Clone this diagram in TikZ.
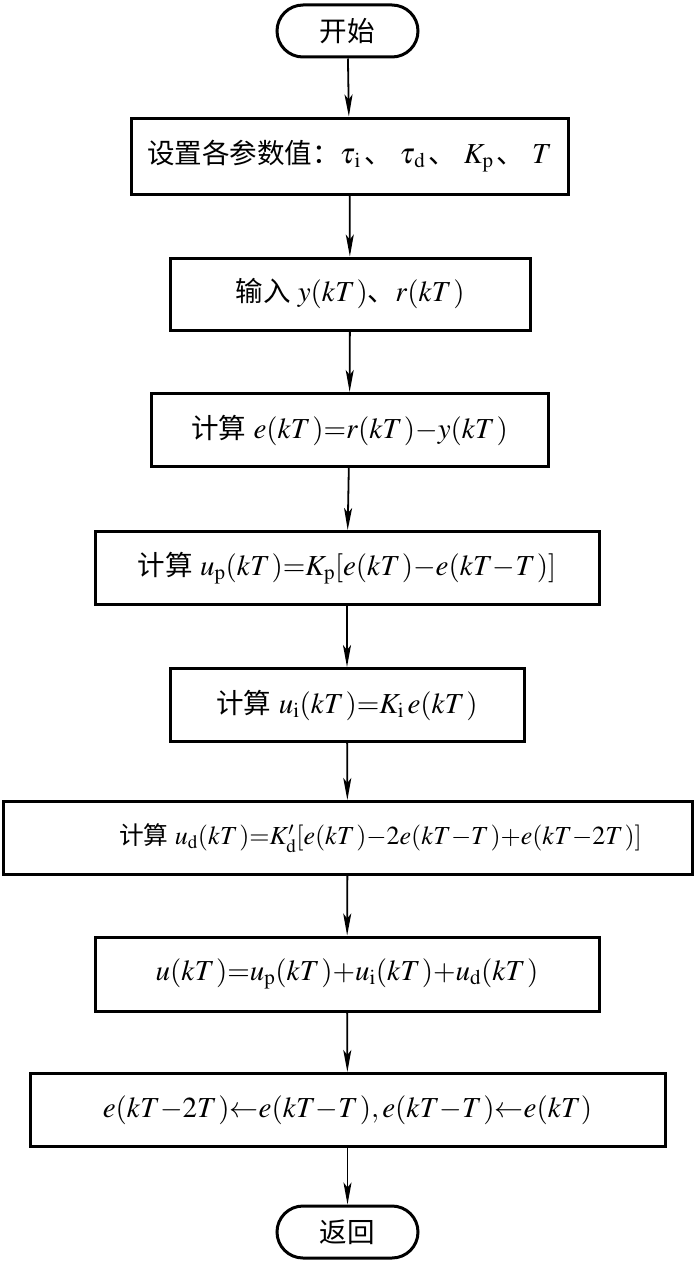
\documentclass[tikz,border=0pt]{standalone}
\usepackage{mathptmx}
\usepackage[no-math]{fontspec}
\setmainfont{Liberation Serif}
\newfontfamily\cjk[Scale=0.95]{Noto Sans CJK SC}
\usetikzlibrary{arrows.meta}
\DeclareMathSizes{29}{29}{21}{16}
\DeclareMathSizes{26}{26}{19}{14}
\newcommand{\fsz}{\fontsize{29}{33}\selectfont}
\newcommand{\fsm}{\fontsize{26}{30}\selectfont}
\newcommand{\gp}{\kern1.5pt}
\newcommand{\dun}{\kern3pt{\cjk 、}\hspace{8pt}}
\tikzset{
  box/.style={draw, line width=3pt, inner sep=0pt, align=center, font=\fsz},
  term/.style={draw, line width=3pt, rounded corners=26pt, inner sep=0pt,
    minimum width=141pt, minimum height=52pt, font=\fsz},
  flow/.style={line width=1.8pt, -{Stealth[length=22pt,width=8pt,inset=5pt]}}
}
\begin{document}
\begin{tikzpicture}[x=1pt,y=-1pt]
\useasboundingbox (0,0) rectangle (695,1263);
\node[term] (start) at (347.5,31) {\cjk 开始};
\node[box, minimum width=437pt, minimum height=76pt] (b1) at (349.5,156)
  {{\cjk 设置各参数值：}$\tau_{\kern2pt\mathrm i}$\dun$\tau_{\kern2pt\mathrm d}$\dun$K_{\mathrm p}$\dun$T$};
\node[box, minimum width=360pt, minimum height=72pt] (b2) at (350,294)
  {{\cjk 输入} $y(kT\gp)${\cjk 、}$r(kT\gp)$};
\node[box, minimum width=397pt, minimum height=73pt] (b3) at (349.5,430)
  {{\cjk 计算} $e(kT\gp){=}r(kT\gp){-}y(kT\gp)$};
\node[box, minimum width=504pt, minimum height=73pt] (b4) at (347,568)
  {{\cjk 计算} $u_{\mathrm p}(kT\gp){=}K_{\mathrm p}[e(kT\gp){-}e(kT{-}T\gp)]$};
\node[box, minimum width=354pt, minimum height=73pt] (b5) at (347,705)
  {{\cjk 计算} $u_{\mathrm i}(kT\gp){=}K_{\mathrm i}\,e(kT\gp)$};
\node[box, minimum width=689pt, minimum height=73pt, font=\fsm] (b6) at (347.5,838)
  {\kern66pt{\cjk 计算} $u_{\mathrm d}(kT\gp){=}K_{\mathrm d}^{\prime}[e(kT\gp){-}2e(kT{-}T\gp){+}e(kT{-}2T\gp)]$};
\node[box, minimum width=504pt, minimum height=74pt] (b7) at (347,974)
  {$u(kT\gp){=}u_{\mathrm p}(kT\gp){+}u_{\mathrm i}(kT\gp){+}u_{\mathrm d}(kT\gp)$};
\node[box, minimum width=635pt, minimum height=73pt] (b8) at (347.5,1110)
  {$e(kT{-}2T\gp){\leftarrow}e(kT{-}T\gp),e(kT{-}T\gp){\leftarrow}e(kT)$};
\node[term] (end) at (347.5,1232) {\cjk 返回};
\draw[flow] (start) -- (b1);
\draw[flow] (b1) -- (b2);
\draw[flow] (b2) -- (b3);
\draw[flow] (b3) -- (b4);
\draw[flow] (b4) -- (b5);
\draw[flow] (b5) -- (b6);
\draw[flow] (b6) -- (b7);
\draw[flow] (b7) -- (b8);
\draw[flow] (b8) -- (end);
\end{tikzpicture}
\end{document}
